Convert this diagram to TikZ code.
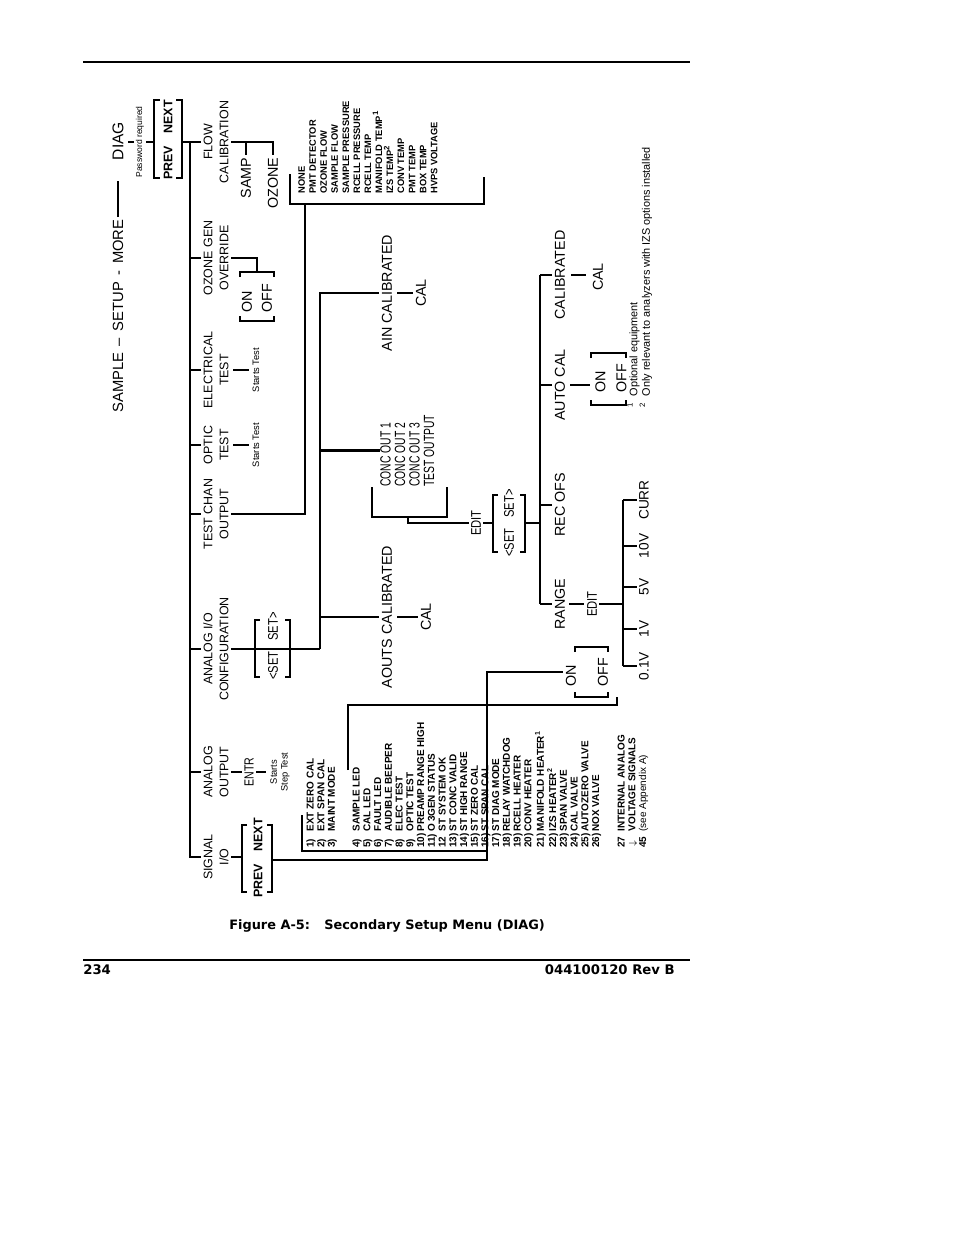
\documentclass[tikz,border=0pt]{standalone}
\usepackage{fontspec}
\setmainfont{Liberation Sans}
\newfontfamily\capfont{DejaVu Sans}
\newfontfamily\narrowfont[FakeStretch=0.8]{Liberation Sans}
\newfontfamily\condfont[FakeStretch=0.7]{Liberation Sans}
\usetikzlibrary{calc}
\tikzset{
  trunk/.style={line width=1.7pt},
  listline/.style={line width=1.4pt},
  menulbl/.style={rotate=90, align=center, inner sep=1.5pt, font=\fontsize{8}{10.3}\selectfont},
  optlbl/.style={rotate=90, inner sep=1.5pt, font=\fontsize{9.2}{11}\selectfont},
  narrowlbl/.style={rotate=90, inner sep=1.5pt, font=\fontsize{9}{9}\narrowfont},
  notelbl/.style={rotate=90, align=center, inner sep=1.5pt, font=\fontsize{6}{7}\selectfont},
  listlbl/.style={rotate=90, align=left, inner sep=0pt, anchor=north west},
  keylbl/.style={rotate=90, inner sep=1pt, font=\fontsize{8}{9}\selectfont\bfseries},
}
\newcommand{\itm}[2]{\makebox[10.5pt][l]{#1}#2}
\begin{document}
\begin{tikzpicture}[x=0.0226cm, y=-0.0226cm]
\useasboundingbox (0,0) rectangle (954,1235);
% page rules and captions
\draw[line width=0.8pt] (83,62) -- (690,62);
\draw[line width=0.8pt] (83,960) -- (690,960);
\node[anchor=west, inner sep=0, font={\capfont\fontsize{8.5}{10}\selectfont\bfseries}] (pg) at (83,970) {234};
\node[anchor=east, inner sep=0, font={\capfont\fontsize{8.5}{10}\selectfont\bfseries}] (rev) at (675,970) {044100120 Rev B};
\node[anchor=west, inner sep=0, font={\capfont\fontsize{8.3}{10}\selectfont\bfseries}] (caption) at (229,926) {Figure A-5:\hspace{1.1em}Secondary Setup Menu (DIAG)};

% entry into DIAG
\node[optlbl, anchor=east, font=\fontsize{9.5}{11}\selectfont] (smsm) at (118,217) {SAMPLE \,–\, SETUP \,-\, MORE};
\node[optlbl, font=\fontsize{10}{12}\selectfont] (diag) at (118,141) {DIAG};
\draw[line width=1.4pt] (smsm.east) -- ($(diag)+(0,40)$);
\node[notelbl, font=\fontsize{5.5}{6}\selectfont] (pw) at (140,142) {Password required};
\draw[trunk] ($(diag)+(10,1)$) -- ($(pw)+(-6,0)$);
\node[keylbl] (pn1) at (168,140) {PREV\hspace{8pt}NEXT};
\draw[trunk] (160,100) -- (154,100) -- (154,178) -- (160,178);
\draw[trunk] (176,100) -- (182,100) -- (182,178) -- (176,178);
\draw[trunk] ($(pw)+(6,0)$) -- ($(pn1)+(-14,2)$);

% main menu
\coordinate (top) at (190,142);
\coordinate (bot) at (190,857);
\node[menulbl] (flow) at (216,142) {FLOW\\CALIBRATION};
\node[menulbl] (ozg) at (216,258) {OZONE GEN\\OVERRIDE};
\node[menulbl] (elec) at (216,370) {ELECTRICAL\\TEST};
\node[menulbl] (optic) at (216,445) {OPTIC\\TEST};
\node[menulbl] (tco) at (216,514) {TEST CHAN\\OUTPUT};
\node[menulbl] (aio) at (216,649) {ANALOG I/O\\CONFIGURATION};
\node[menulbl] (aout) at (216,772) {ANALOG\\OUTPUT};
\node[menulbl] (sio) at (216,857) {SIGNAL\\I/O};
\draw[trunk] (182,142) -- (flow.north);
\draw[trunk] (top) -- (bot) -- (sio.north);
\foreach \n in {ozg,elec,optic,tco,aio,aout}
  \draw[trunk] (top |- \n) -- (\n.north);

% flow calibration
\node[optlbl] (samp) at (246,178) {SAMP};
\node[optlbl] (ozone) at (273,183) {OZONE};
\draw[trunk] (flow.south) -| (ozone.east);
\draw[trunk] (samp.east |- flow) -- (samp.east);

% ozone gen override
\node[optlbl, align=left, font=\fontsize{9.2}{12.8}\selectfont] (oo1) at (257,298) {ON\\OFF};
\draw[trunk] (ozg.south) -| (257,272);
\draw[trunk] (240,277) |- (274,272) -- (274,277);
\draw[trunk] (240,316) |- (274,321) -- (274,316);

% tests
\node[notelbl] (st1) at (256,370) {Starts Test};
\node[notelbl] (st2) at (256,445) {Starts Test};
\draw[trunk] ($(elec)+(17,0)$) -- ($(st1)+(-7,0)$);
\draw[trunk] ($(optic)+(17,0)$) -- ($(st2)+(-7,0)$);

% test channel output
\node[listlbl, font=\fontsize{6}{7.1}\selectfont\bfseries] (chans) at (298,194)
  {NONE\\PMT DETECTOR\\OZONE FLOW\\SAMPLE FLOW\\SAMPLE PRESSURE\\RCELL PRESSURE\\RCELL TEMP\\MANIFOLD TEMP\textsuperscript{1}\\IZS TEMP\textsuperscript{2}\\CONV TEMP\\PMT TEMP\\BOX TEMP\\HVPS VOLTAGE};
\draw[listline] (290,174) |- (484,204) -- (484,177);
\draw[trunk] (tco.south) -| (305,204);

% analog i/o configuration
\node[narrowlbl] (set1) at (273,646) {<SET\hspace{7pt}SET>};
\draw[trunk] (260,620) -- (255,620) -- (255,677) -- (260,677);
\draw[trunk] (285,620) -- (290,620) -- (290,677) -- (285,677);
\coordinate (av) at (320,649);
\draw[trunk] (aio.south) -- (av);
\node[optlbl] (ain) at (387,293) {AIN CALIBRATED};
\node[optlbl] (cal1) at (421,293) {CAL};
\node[optlbl] (aouts) at (387,617) {AOUTS CALIBRATED};
\node[optlbl] (cal2) at (426,617) {CAL};
\node[listlbl, font=\fontsize{9.5}{9.3}\condfont] (conc) at (380,487) {CONC OUT 1\\CONC OUT 2\\CONC OUT 3\\TEST OUTPUT};
\draw[trunk] (av) |- (ain.north);
\draw[trunk] (av |- conc.north) -- (conc.north);
\draw[trunk] (av |- aouts) -- (aouts.north);
\draw[trunk] ($(ain)+(10,0)$) -- ($(cal1)+(-8,0)$);
\draw[trunk] ($(aouts)+(10,0)$) -- ($(cal2)+(-8,0)$);
\draw[trunk] (372,487) |- (447,517) -- (447,487);
\node[narrowlbl] (edit1) at (476,523) {EDIT};
\draw[trunk] (408,517) |- (edit1.north);
\node[narrowlbl] (set2) at (509,523) {<SET\hspace{7pt}SET>};
\draw[trunk] (498,495) -- (493,495) -- (493,552) -- (498,552);
\draw[trunk] (520,495) -- (525,495) -- (525,552) -- (520,552);
\draw[trunk] ($(edit1)+(7,0)$) -- ($(set2)+(-16,0)$);
\draw[trunk] ($(set2)+(16,0)$) -- (540,523);

% output settings
\coordinate (s2) at (540,275);
\node[optlbl] (calb) at (560,275) {CALIBRATED};
\node[optlbl] (autocal) at (560,385) {AUTO CAL};
\node[optlbl] (recofs) at (560,505) {REC OFS};
\node[optlbl] (range) at (560,604) {RANGE};
\draw[trunk] (s2) -- (s2 |- range);
\foreach \n in {calb,autocal,recofs,range}
  \draw[trunk] (s2 |- \n) -- (\n.north);
\node[optlbl] (cal3) at (598,277) {CAL};
\draw[trunk] ($(calb)+(11,0)$) -- ($(cal3)+(-12,-2)$);
\node[optlbl, align=left, font=\fontsize{9.2}{13.5}\selectfont] (oo2) at (611,378) {ON\\OFF};
\draw[trunk] ($(autocal)+(10,0)$) -- ($(oo2)+(-21,7)$);
\draw[trunk] (591,358) |- (626,353) -- (626,358);
\draw[trunk] (591,400) |- (626,405) -- (626,400);
\node[narrowlbl] (edit2) at (592,604) {EDIT};
\draw[trunk] ($(range)+(9,0)$) -- ($(edit2)+(-8,0)$);
\coordinate (vs) at (623,500);
\draw[trunk] ($(edit2)+(7,0)$) -- (vs |- edit2);
\draw[trunk] (vs) -- (623,666);
\foreach \v/\y in {CURR/500, 10V/546, 5V/587, 1V/629, 0.1V/666} {
  \node[optlbl, font=\fontsize{8.8}{10}\selectfont] (v\y) at (644,\y) {\v};
  \draw[trunk] (623,\y) -- (v\y.north);
}

% signal i/o
\node[keylbl] (pn2) at (258,858) {PREV\hspace{8pt}NEXT};
\draw[trunk] (247,825) -- (242,825) -- (242,892) -- (247,892);
\draw[trunk] (267,825) -- (272,825) -- (272,892) -- (267,892);
\draw[trunk] (sio.south) -- (242,857);
\node[optlbl, align=left, font=\fontsize{9.2}{20.5}\selectfont] (oo3) at (587,672) {ON\\OFF};
\draw[trunk] (272,860) -| (487,672) -- ($(oo3)+(-24,0)$);
\draw[trunk] (575,652) |- (608,647) -- (608,652);
\draw[trunk] (575,692) |- (608,697) -- (608,692);
\draw[listline] (302,815) |- (487,851);
\draw[listline] (348,770) |- (617,705) -- (617,697);
\node[listlbl, font=\fontsize{6.4}{6.9}\selectfont\bfseries] (sigs) at (306,848)
  {\itm{1)}{EXT ZERO CAL}\\\itm{2)}{EXT SPAN CAL}\\\itm{3)}{MAINT MODE}\\[9pt]
   \itm{4)}{SAMPLE LED}\\\itm{5)}{CAL LED}\\\itm{6)}{FAULT LED}\\\itm{7)}{AUDIBLE BEEPER}\\
   \itm{8)}{ELEC TEST}\\\itm{9)}{OPTIC TEST}\\\itm{10)}{PREAMP RANGE HIGH}\\\itm{11)}{O\,3GEN STATUS}\\
   \itm{12}{ST SYSTEM OK}\\\itm{13)}{ST CONC VALID}\\\itm{14)}{ST HIGH RANGE}\\\itm{15)}{ST ZERO CAL}\\
   \itm{16)}{ST SPAN CAL}\\\itm{17)}{ST DIAG MODE}\\\itm{18)}{RELAY WATCHDOG}\\\itm{19)}{RCELL HEATER}\\
   \itm{20)}{CONV HEATER}\\\itm{21)}{MANIFOLD HEATER\textsuperscript{1}}\\\itm{22)}{IZS HEATER\textsuperscript{2}}\\
   \itm{23)}{SPAN VALVE}\\\itm{24)}{CAL VALVE}\\\itm{25)}{AUTOZERO VALVE}\\\itm{26)}{NOX VALVE}\\[9.5pt]
   \itm{27}{INTERNAL ANALOG}\\\itm{\,$\downarrow$}{VOLTAGE SIGNALS}\\\itm{45}{\mdseries(see Appendix A)}};

% analog output
\node[narrowlbl, font=\fontsize{8.5}{9}\narrowfont] (entr) at (249,772) {ENTR};
\node[notelbl] (sst) at (280,772) {Starts\\Step Test};
\draw[trunk] (aout.south) -- ($(entr)+(-7,0)$);
\draw[trunk] ($(entr)+(7,0)$) -- ($(sst)+(-14,0)$);

% footnotes
\node[listlbl, font=\fontsize{7}{8}\selectfont] (fn) at (627,408)
  {\textsuperscript{1}\hspace{4pt}Optional equipment\\\textsuperscript{2}\hspace{4pt}Only relevant to analyzers with IZS options installed};
\end{tikzpicture}
\end{document}
